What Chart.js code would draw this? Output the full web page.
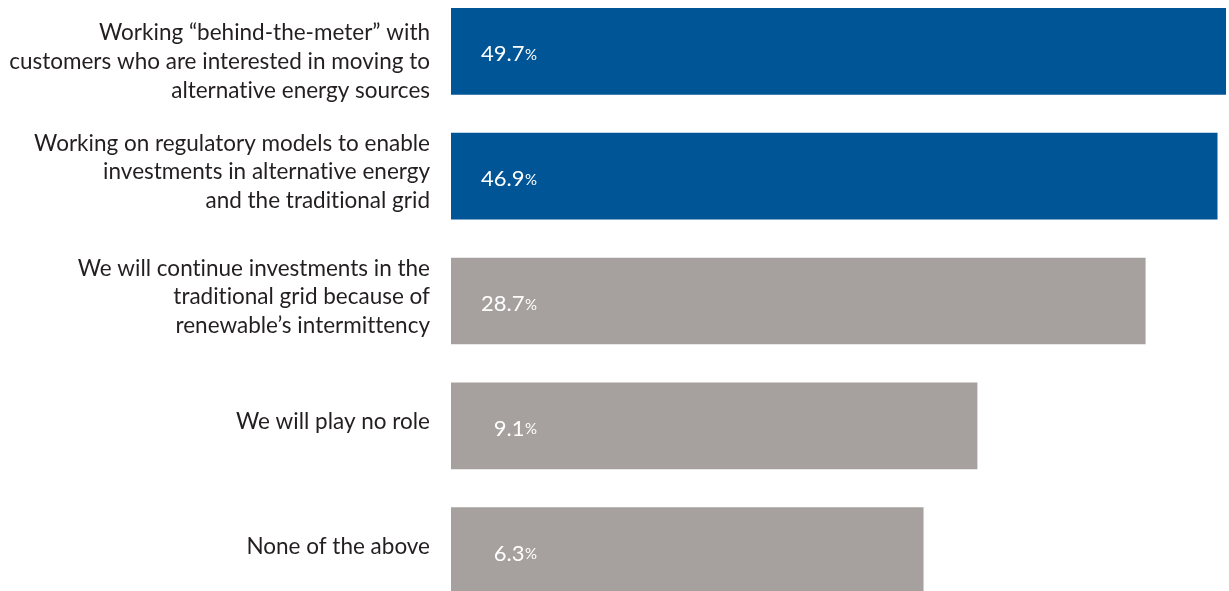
<!DOCTYPE html>
<html>
<head>
<meta charset="utf-8">
<script src="https://cdn.jsdelivr.net/npm/chart.js@4.4.1/dist/chart.umd.min.js"></script>
<style>
  html, body { margin: 0; padding: 0; background: #fff; overflow: hidden; width: 1229px; height: 591px; }
  #wrap { position: absolute; left: 0; top: -11px; width: 1229px; height: 624px; }
</style>
</head>
<body>
<div id="wrap"><canvas id="chart"></canvas></div>
<script>
// Survey answers and the share of respondents choosing each one (%)
const answers = [
  ['Working “behind-the-meter” with', 'customers who are interested in moving to', 'alternative energy sources'],
  ['Working on regulatory models to enable', 'investments in alternative energy', 'and the traditional grid'],
  ['We will continue investments in the', 'traditional grid because of', 'renewable’s intermittency'],
  'We will play no role',
  'None of the above'
];
const shares = [49.7, 46.9, 28.7, 9.1, 6.3];
// Answers highlighted in blue (the rest are grey)
const highlighted = [true, true, false, false, false];

const BLUE = '#005596';
const GREY = '#a6a19e';
const FONT = 'Lato, "Open Sans", sans-serif';

// Plain letter shapes, no "ti"/"fi" ligatures
const plainText = {
  id: 'plainText',
  beforeDraw(chart) { chart.ctx.textRendering = 'optimizeSpeed'; }
};

// Writes "NN.N%" inside each bar, with a smaller percent sign
const valueLabels = {
  id: 'valueLabels',
  afterDatasetsDraw(chart) {
    const ctx = chart.ctx;
    const meta = chart.getDatasetMeta(0);
    meta.data.forEach((bar, i) => {
      const num = shares[i].toFixed(1);
      const right = bar.base + 86;
      ctx.save();
      ctx.fillStyle = '#ffffff';
      ctx.textBaseline = 'alphabetic';
      ctx.textAlign = 'right';
      ctx.font = '15px ' + FONT;
      const pw = ctx.measureText('%').width;
      ctx.fillText('%', right, bar.y + 8.5);
      ctx.font = '22px ' + FONT;
      ctx.fillText(num, right - pw - 0.5, bar.y + 10);
      ctx.restore();
    });
  }
};

new Chart(document.getElementById('chart'), {
  type: 'bar',
  data: {
    labels: answers,
    datasets: [{
      data: shares,
      backgroundColor: highlighted.map(h => h ? BLUE : GREY),
      borderWidth: 0,
      barPercentage: 0.695,
      categoryPercentage: 1
    }]
  },
  options: {
    indexAxis: 'y',
    responsive: true,
    maintainAspectRatio: false,
    animation: false,
    layout: { padding: { left: 0, right: 3, top: 0, bottom: 0 } },
    plugins: {
      legend: { display: false },
      tooltip: { enabled: false },
      title: { display: false }
    },
    scales: {
      x: {
        type: 'logarithmic',
        min: 0.25,
        max: 49.7,
        display: false,
        grid: { display: false }
      },
      y: {
        grid: { display: false, drawTicks: false },
        border: { display: false },
        afterFit(scale) {
          scale.width = 451;
          scale.paddingTop = 0;
          scale.paddingBottom = 0;
        },
        ticks: {
          padding: 21,
          labelOffset: -4,
          color: '#231f20',
          font: { family: FONT, size: 22.5, lineHeight: 1.275 },
          // the first answer sits a little lower beside its bar
          callback(value, index) {
            const lbl = answers[index];
            return index === 0 ? [''].concat(lbl) : lbl;
          }
        }
      }
    }
  },
  plugins: [plainText, valueLabels]
});
</script>
</body>
</html>
